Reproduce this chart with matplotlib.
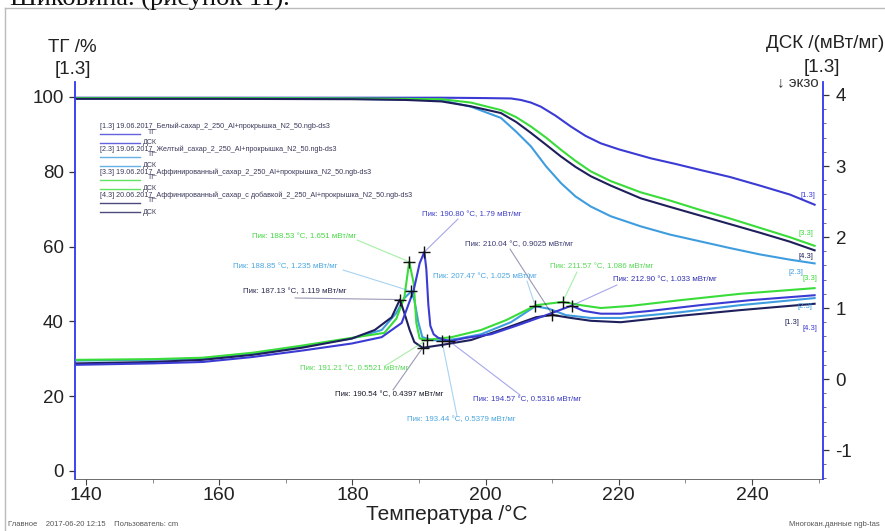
import matplotlib
matplotlib.use('Agg')
import matplotlib.pyplot as plt
from matplotlib.ticker import MultipleLocator, FixedLocator
from matplotlib.lines import Line2D

plt.rcParams['font.family'] = ['Liberation Sans', 'DejaVu Sans']
plt.rcParams['axes.unicode_minus'] = False

# ---------------- data ----------------
legend_names = [
    '[1.3] 19.06.2017_Белый-сахар_2_250_Al+прокрышка_N2_50.ngb-ds3',
    '[2.3] 19.06.2017_Желтый_сахар_2_250_Al+прокрышка_N2_50.ngb-ds3',
    '[3.3] 19.06.2017_Аффинированный_сахар_2_250_Al+прокрышка_N2_50.ngb-ds3',
    '[4.3] 20.06.2017_Аффинированный_сахар_с добавкой_2_250_Al+прокрышка_N2_50.ngb-ds3',
]

# TG (%) curves
tg_T_violet = [138.6, 160, 180, 193.4, 200, 203.8, 205.3, 206.8, 208.3, 210.5, 212.8, 215, 217.3, 220,
               224.8, 228.5, 232.2, 236.7, 241.2, 245.7, 249.4]
tg_violet = [99.8, 99.8, 99.8, 99.8, 99.7, 99.6, 99.2, 98.5, 97.4, 95.0, 92.1, 89.6, 87.6, 86.0,
             83.6, 82.1, 80.5, 78.6, 76.3, 73.9, 71.2]

tg_T = [138.6, 160, 180, 188, 193.4, 197.8, 202.3, 204.6, 206.8, 209.1, 211.3, 213.5, 215.8, 218.8,
        223.3, 227.7, 232.2, 236.7, 241.2, 245.7, 249.4]
tg_lblue = [99.6, 99.6, 99.5, 99.3, 99.1, 97.4, 94.4, 90.7, 86.8, 81.4, 77.0, 73.4, 70.7, 68.1,
            65.4, 63.2, 61.4, 59.6, 57.9, 56.5, 55.5]
tg_green = [99.7, 99.7, 99.6, 99.5, 99.4, 98.5, 96.5, 94.6, 92.1, 89.1, 85.9, 82.9, 80.1, 77.5,
            74.5, 72.3, 69.8, 67.5, 65.0, 62.5, 60.2]
tg_navy = [99.5, 99.5, 99.4, 99.2, 98.8, 97.5, 95.7, 93.3, 90.4, 87.2, 84.1, 81.3, 78.8, 76.3,
           72.9, 70.6, 68.3, 66.0, 63.7, 61.3, 59.0]

# DSC (mW/mg) curves
dsc_T_violet = [138.6, 150.0, 157.5, 165.0, 172.4, 179.9, 184.4, 187.4, 189.2, 190.1, 190.80, 191.1, 191.4,
                191.7, 192.2, 192.9, 194.57, 197.1, 200.8, 204.6, 209.1, 212.90, 214.7, 217.3, 220.3,
                224.8, 232.2, 239.7, 249.4]
dsc_violet = [0.20, 0.22, 0.24, 0.31, 0.40, 0.50, 0.59, 0.79, 1.25, 1.63, 1.79, 1.55, 1.05,
              0.75, 0.63, 0.58, 0.5316, 0.58, 0.63, 0.75, 0.90, 1.033, 0.96, 0.92, 0.92,
              0.96, 1.04, 1.11, 1.18]

dsc_T_green = [138.6, 150.0, 157.5, 165.0, 172.4, 179.9, 184.8, 186.6, 187.8, 188.53, 189.2, 189.6, 190.1,
               191.21, 194.9, 199.3, 203.1, 207.6, 211.57, 214.3, 217.3, 221.8, 229.2, 238.2, 249.4]
dsc_green = [0.27, 0.28, 0.30, 0.37, 0.47, 0.58, 0.65, 0.85, 1.15, 1.651, 1.35, 0.79, 0.57,
             0.5521, 0.59, 0.69, 0.83, 1.04, 1.086, 1.04, 1.00, 1.03, 1.11, 1.20, 1.28]

dsc_T_lblue = [138.6, 150.0, 157.5, 165.0, 172.4, 179.9, 184.4, 186.6, 187.8, 188.85, 189.3, 189.9, 190.5,
               191.9, 193.44, 196.0, 199.3, 203.8, 207.47, 209.5, 212.05, 215.8, 220.3, 229.2, 238.2, 249.4]
dsc_lblue = [0.26, 0.27, 0.29, 0.36, 0.46, 0.57, 0.69, 0.93, 1.14, 1.235, 1.11, 0.80, 0.59,
             0.55, 0.5379, 0.57, 0.63, 0.80, 1.025, 0.99, 0.90, 0.86, 0.86, 0.94, 1.04, 1.14]

dsc_T_navy = [138.6, 150.0, 157.5, 165.0, 172.4, 179.9, 183.35, 185.9, 187.13, 187.8, 188.6, 189.3, 190.54,
              193.4, 197.85, 203.1, 207.56, 210.04, 212.8, 215.8, 220.3, 229.2, 238.2, 249.4]
dsc_navy = [0.22, 0.24, 0.27, 0.34, 0.44, 0.57, 0.69, 0.87, 1.119, 0.93, 0.69, 0.52, 0.4397,
            0.48, 0.55, 0.72, 0.87, 0.9025, 0.86, 0.82, 0.80, 0.89, 0.97, 1.06]

# peak markers (temperature, DSC value) and their labels
peak_T = [190.80, 188.53, 188.85, 187.13, 210.04, 207.47, 211.57, 212.90, 191.21, 190.54, 193.44, 194.57]
peak_v = [1.79, 1.651, 1.235, 1.119, 0.9025, 1.025, 1.086, 1.033, 0.5521, 0.4397, 0.5379, 0.5316]
peak_text = [
    'Пик: 190.80 °C, 1.79 мВт/мг',
    'Пик: 188.53 °C, 1.651 мВт/мг',
    'Пик: 188.85 °C, 1.235 мВт/мг',
    'Пик: 187.13 °C, 1.119 мВт/мг',
    'Пик: 210.04 °C, 0.9025 мВт/мг',
    'Пик: 207.47 °C, 1.025 мВт/мг',
    'Пик: 211.57 °C, 1.086 мВт/мг',
    'Пик: 212.90 °C, 1.033 мВт/мг',
    'Пик: 191.21 °C, 0.5521 мВт/мг',
    'Пик: 190.54 °C, 0.4397 мВт/мг',
    'Пик: 193.44 °C, 0.5379 мВт/мг',
    'Пик: 194.57 °C, 0.5316 мВт/мг',
]

tg_ticks = [0, 20, 40, 60, 80, 100]
dsc_ticks = [-1, 0, 1, 2, 3, 4]
x_ticks = [140, 160, 180, 200, 220, 240]

# ---------------- style ----------------
C_VIOLET = '#3b3bd4'
C_LBLUE = '#3f9ddf'
C_GREEN = '#3adc3a'
C_NAVY = '#1f1f5c'
AX_BLUE = '#3434ee'
peak_colors = [C_VIOLET, C_GREEN, C_LBLUE, C_NAVY, C_NAVY, C_LBLUE, C_GREEN, C_VIOLET,
               C_GREEN, C_NAVY, C_LBLUE, C_VIOLET]
text_colors = ['#4040c8', '#44d844', '#4aa6e0', '#2a2a50', '#3a3a70', '#4aa6e0', '#55d855', '#3030b0',
               '#55d855', '#1a1a2a', '#4aa6e0', '#3a3ac0']
# label positions in pixels (left x, centre y) and leader start in pixels
text_pos = [(422, 215), (252, 237), (233, 267), (243, 292), (465, 245), (433, 277), (550, 267),
            (613, 280), (300, 369), (335, 395), (407, 420), (473, 400)]
lead_pos = [(458, 219), (357, 240), (343, 270), (295, 298), (510, 249), (527, 281), (577, 272),
            (617, 285), (385, 366), (393, 390), (457, 416), (520, 395)]

W, H = 885, 531
fig = plt.figure(figsize=(W / 100, H / 100), dpi=100)


def fp(px, py):
    return (px / W, 1 - py / H)


L, R, TOP, BOT = 75, 823, 82, 479
ax = fig.add_axes([L / W, 1 - BOT / H, (R - L) / W, (BOT - TOP) / H])
ax2 = ax.twinx()

ax.set_xlim(138.35, 250.66)
ax.set_ylim(-2.14, 104.0)
ax2.set_ylim(-1.408, 4.183)

lw = 1.5
ax.plot(tg_T_violet, tg_violet, color=C_VIOLET, lw=lw)
ax.plot(tg_T, tg_lblue, color=C_LBLUE, lw=lw)
ax.plot(tg_T, tg_green, color=C_GREEN, lw=lw)
ax.plot(tg_T, tg_navy, color=C_NAVY, lw=lw)

ax2.plot(dsc_T_lblue, dsc_lblue, color=C_LBLUE, lw=lw)
ax2.plot(dsc_T_green, dsc_green, color=C_GREEN, lw=lw)
ax2.plot(dsc_T_navy, dsc_navy, color=C_NAVY, lw=lw)
ax2.plot(dsc_T_violet, dsc_violet, color=C_VIOLET, lw=lw)

# leaders + labels
for t, v, txt, c, tc, tp, lp in zip(peak_T, peak_v, peak_text, peak_colors, text_colors, text_pos, lead_pos):
    ax2.annotate('', xy=(t, v), xycoords='data', xytext=fp(*lp), textcoords='figure fraction',
                 arrowprops=dict(arrowstyle='-', color=c, alpha=0.45, lw=0.8, shrinkA=0, shrinkB=0))
    fig.text(*fp(*tp), txt, fontsize=5.7, color=tc, ha='left', va='center')

ax2.plot(peak_T, peak_v, linestyle='none', marker='+', ms=9, mew=1.0, color='#111111', zorder=5)

# spines and ticks
for a in (ax, ax2):
    a.spines['top'].set_visible(False)
    a.patch.set_visible(False)
ax.spines['right'].set_visible(False)
ax.spines['left'].set_color(AX_BLUE)
ax.spines['left'].set_linewidth(1.3)
ax.spines['bottom'].set_color('#555555')
ax.spines['bottom'].set_linewidth(0.6)
ax2.spines['left'].set_visible(False)
ax2.spines['bottom'].set_visible(False)
ax2.spines['right'].set_color(AX_BLUE)
ax2.spines['right'].set_linewidth(1.3)

ax.xaxis.set_major_locator(FixedLocator(x_ticks))
ax.xaxis.set_minor_locator(MultipleLocator(10))
ax.yaxis.set_major_locator(FixedLocator(tg_ticks))
ax2.yaxis.set_major_locator(FixedLocator(dsc_ticks))
ax2.yaxis.set_minor_locator(MultipleLocator(0.2))

ax.tick_params(axis='x', which='major', labelsize=14, length=4, width=0.8, color='#444444', pad=2,
               labelcolor='#222222')
ax.tick_params(axis='x', which='minor', length=3, width=0.6, color='#777777')
ax.tick_params(axis='y', which='major', labelsize=13.5, length=4, width=0.9, color='#333333', pad=4,
               labelcolor='#222222')
ax2.tick_params(axis='y', which='major', labelsize=13.5, length=4, width=0.9, color='#333333', pad=5,
                labelcolor='#222222')
ax2.tick_params(axis='y', which='minor', length=2, width=0.6, color='#555599')

# axis titles
fig.text(*fp(447, 514), 'Температура /°C', fontsize=15, ha='center', va='center', color='#222222')
fig.text(*fp(72, 47), 'ТГ /%', fontsize=13.5, ha='center', va='center', color='#222222')
fig.text(*fp(73, 69), '[1.3]', fontsize=13.5, ha='center', va='center', color='#222222')
fig.text(*fp(884, 44), 'ДСК /(мВт/мг)', fontsize=13.5, ha='right', va='center', color='#222222')
fig.text(*fp(822, 68), '[1.3]', fontsize=13.5, ha='center', va='center', color='#222222')
fig.text(*fp(798, 82), '↓ экзо', fontsize=11, ha='center', va='center', color='#333333')

# in-plot legend block
leg_colors = [C_VIOLET, C_LBLUE, C_GREEN, C_NAVY]
leg_y0 = [126, 149, 172, 195]
for name, c, y in zip(legend_names, leg_colors, leg_y0):
    fig.text(*fp(100, y), name, fontsize=5.2, color='#3a3a5a', ha='left', va='center')
    for dy, lab, lx, ty in ((8, 'ТГ', 148, 6), (17, 'ДСК', 143, 17)):
        x0, y0 = fp(100, y + dy)
        x1, _ = fp(140, y + dy)
        fig.add_artist(Line2D([x0, x1], [y0, y0], color=c, lw=1.0, alpha=0.8))
        fig.text(*fp(lx, y + ty), lab, fontsize=5.0, color='#3a3a5a', ha='left', va='center')

# curve-end labels
end_labels = [('[1.3]', 808, 195, C_VIOLET), ('[3.3]', 806, 234, C_GREEN), ('[4.3]', 806, 257, C_NAVY),
              ('[2.3]', 796, 272, C_LBLUE), ('[3.3]', 810, 279, C_GREEN), ('[2.3]', 805, 307, C_LBLUE),
              ('[1.3]', 792, 322, C_NAVY), ('[4.3]', 810, 328, C_VIOLET)]
for s, px, py, c in end_labels:
    fig.text(*fp(px, py), s, fontsize=5.5, color=c, ha='center', va='center')

# window frame and cropped document text
fig.add_artist(Line2D([5 / W, 1], [1 - 8 / H, 1 - 8 / H], color='#bbbbbb', lw=1.0))
fig.add_artist(Line2D([5 / W, 5 / W], [0, 1 - 8 / H], color='#bbbbbb', lw=1.0))
fig.text(*fp(10, 6), 'Шиковина. (рисунок 11).', fontsize=19, family=['Liberation Serif', 'DejaVu Serif'],
         ha='left', va='baseline', color='#111111')

# footer
fig.text(*fp(8, 525), 'Главное    2017-06-20 12:15    Пользователь: cm', fontsize=5.5, color='#555555',
         ha='left', va='center')
fig.text(*fp(880, 525), 'Многокан.данные ngb-tas', fontsize=5.5, color='#555555', ha='right', va='center')

fig.savefig('out.png', dpi=100)
